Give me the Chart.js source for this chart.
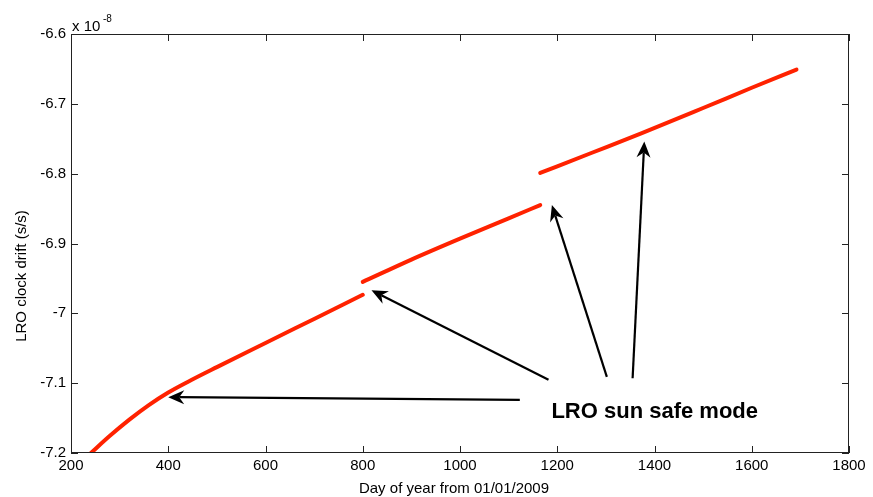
<!DOCTYPE html>
<html>
<head>
<meta charset="utf-8">
<script src="https://cdn.jsdelivr.net/npm/chart.js@4"></script>
<style>
  html, body { margin: 0; padding: 0; background: #fff; }
  #wrap { width: 873px; height: 497px; }
</style>
</head>
<body>
<div id="wrap"><canvas id="driftChart" width="873" height="497"></canvas></div>
<script>
// LRO clock drift, units of 1e-8 s/s, three pieces split by sun safe mode events
const seg1Days = [241, 280, 320, 360, 400, 440, 500, 600, 700, 800];
const seg1Drift = [-7.200, -7.1754, -7.1522, -7.1314, -7.1134, -7.0982, -7.0770, -7.0425, -7.0080, -6.9735];

const seg2Days = [800, 900, 1000, 1100, 1165];
const seg2Drift = [-6.955, -6.923, -6.893, -6.864, -6.845];

const seg3Days = [1165, 1270, 1374, 1500, 1600, 1692];
const seg3Drift = [-6.799, -6.7704, -6.742, -6.706, -6.677, -6.651];

const xTicks = [200, 400, 600, 800, 1000, 1200, 1400, 1600, 1800];
const yTicks = [-7.2, -7.1, -7.0, -6.9, -6.8, -6.7, -6.6];

// arrows in data units: [tailDay, tailDrift, tipDay, tipDrift]
const arrows = [
    [1123, -7.124, 400, -7.120],
    [1182, -7.095, 818, -6.967],
    [1302, -7.091, 1189, -6.845],
    [1355, -7.093, 1379, -6.754]
];
const noteText = "LRO sun safe mode";
const noteAt = [1188, -7.15];

const toPoints = (xs, ys) => xs.map((x, i) => ({ x: x, y: ys[i] }));
const lineColor = "#ff2200";
const fontFam = "'Liberation Sans', Arial, sans-serif";

function fmt(v) {
    return String(Number(v.toFixed(1)));
}

const frame = {
    id: "frame",
    afterDraw(chart) {
        const c = chart.ctx;
        const a = chart.chartArea;
        const xs = chart.scales.x;
        const ys = chart.scales.y;
        c.save();
        c.strokeStyle = "#222";
        c.lineWidth = 1;
        c.strokeRect(a.left + 0.5, a.top + 0.5, a.right - a.left - 1, a.bottom - a.top - 1);
        c.beginPath();
        xTicks.forEach(t => {
            const px = Math.round(xs.getPixelForValue(t)) + 0.5;
            c.moveTo(px, a.bottom); c.lineTo(px, a.bottom - 7);
            c.moveTo(px, a.top); c.lineTo(px, a.top + 7);
        });
        yTicks.forEach(t => {
            const py = Math.round(ys.getPixelForValue(t)) + 0.5;
            c.moveTo(a.left, py); c.lineTo(a.left + 7, py);
            c.moveTo(a.right, py); c.lineTo(a.right - 7, py);
        });
        c.stroke();

        // exponent label
        c.fillStyle = "#000";
        c.textBaseline = "alphabetic";
        c.textAlign = "left";
        c.font = "15px " + fontFam;
        c.fillText("x 10", a.left + 1, 31);
        c.font = "10px " + fontFam;
        c.fillText("-8", a.left + 32, 22);

        // axis titles
        c.font = "15px " + fontFam;
        c.textAlign = "center";
        c.fillText("Day of year from 01/01/2009", 454, 493);
        c.save();
        c.translate(26, 276);
        c.rotate(-Math.PI / 2);
        c.fillText("LRO clock drift (s/s)", 0, 0);
        c.restore();

        // arrows
        c.strokeStyle = "#000";
        c.fillStyle = "#000";
        c.lineWidth = 2.2;
        arrows.forEach(ar => {
            const x0 = xs.getPixelForValue(ar[0]), y0 = ys.getPixelForValue(ar[1]);
            const x1 = xs.getPixelForValue(ar[2]), y1 = ys.getPixelForValue(ar[3]);
            const ang = Math.atan2(y1 - y0, x1 - x0);
            const len = 16, half = 7, notch = 11;
            const bx = x1 - len * Math.cos(ang), by = y1 - len * Math.sin(ang);
            const nx = x1 - notch * Math.cos(ang), ny = y1 - notch * Math.sin(ang);
            c.beginPath();
            c.moveTo(x0, y0);
            c.lineTo(nx, ny);
            c.stroke();
            c.beginPath();
            c.moveTo(x1, y1);
            c.lineTo(bx - half * Math.sin(ang), by + half * Math.cos(ang));
            c.lineTo(nx, ny);
            c.lineTo(bx + half * Math.sin(ang), by - half * Math.cos(ang));
            c.closePath();
            c.fill();
        });

        c.textAlign = "left";
        c.font = "bold 22px " + fontFam;
        c.fillText(noteText, xs.getPixelForValue(noteAt[0]), ys.getPixelForValue(noteAt[1]));
        c.restore();
    }
};

const seriesStyle = {
    borderColor: lineColor,
    backgroundColor: lineColor,
    borderWidth: 4,
    pointRadius: 0,
    fill: false,
    cubicInterpolationMode: "monotone",
    borderCapStyle: "round"
};

new Chart(document.getElementById("driftChart"), {
    type: "line",
    data: {
        datasets: [
            Object.assign({ label: "seg1", data: toPoints(seg1Days, seg1Drift) }, seriesStyle),
            Object.assign({ label: "seg2", data: toPoints(seg2Days, seg2Drift) }, seriesStyle),
            Object.assign({ label: "seg3", data: toPoints(seg3Days, seg3Drift) }, seriesStyle)
        ]
    },
    options: {
        responsive: false,
        animation: false,
        layout: { padding: { left: 0, top: 34, right: 24, bottom: 0 } },
        plugins: { legend: { display: false }, tooltip: { enabled: false } },
        scales: {
            x: {
                type: "linear",
                min: 200,
                max: 1800,
                afterBuildTicks: s => { s.ticks = xTicks.map(v => ({ value: v })); },
                afterFit: s => { s.height = 44; },
                grid: { display: false, drawTicks: false },
                border: { display: false },
                ticks: {
                    color: "#000",
                    font: { family: fontFam, size: 15 },
                    padding: 4,
                    maxRotation: 0,
                    callback: v => String(v)
                }
            },
            y: {
                type: "linear",
                min: -7.2,
                max: -6.6,
                afterBuildTicks: s => { s.ticks = yTicks.map(v => ({ value: v })); },
                afterFit: s => { s.width = 71; },
                grid: { display: false, drawTicks: false },
                border: { display: false },
                ticks: {
                    color: "#000",
                    font: { family: fontFam, size: 15 },
                    padding: 5,
                    callback: v => fmt(v)
                }
            }
        }
    },
    plugins: [frame]
});
</script>
</body>
</html>
